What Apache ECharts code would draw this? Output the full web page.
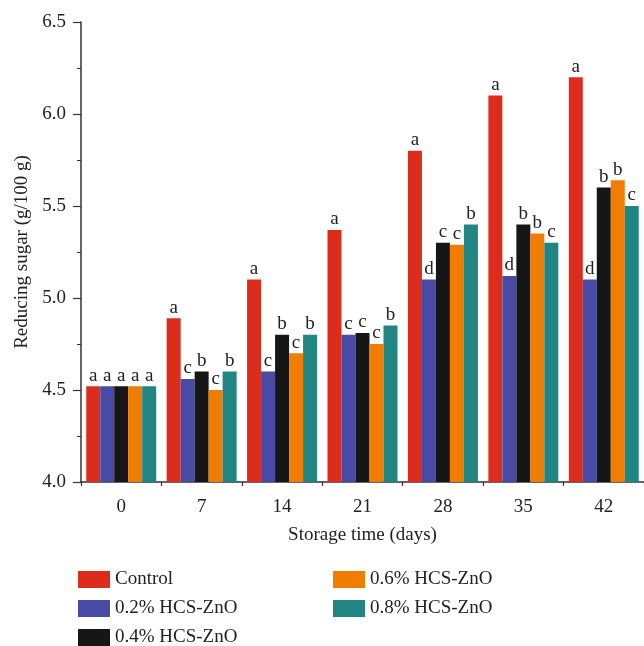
<!DOCTYPE html>
<html><head><meta charset="utf-8">
<script src="https://cdn.jsdelivr.net/npm/echarts@6/dist/echarts.min.js"></script>
<style>html,body{margin:0;padding:0;background:#fff}#c{width:644px;height:646px}</style>
</head><body><div id="c"></div>
<script>
const categories = ['0','7','14','21','28','35','42'];
const seriesNames = ['Control','0.2% HCS-ZnO','0.4% HCS-ZnO','0.6% HCS-ZnO','0.8% HCS-ZnO'];
const control = [4.52, 4.89, 5.10, 5.37, 5.80, 6.10, 6.20];
const hcs02 = [4.52, 4.56, 4.60, 4.80, 5.10, 5.12, 5.10];
const hcs04 = [4.52, 4.60, 4.80, 4.81, 5.30, 5.40, 5.60];
const hcs06 = [4.52, 4.50, 4.70, 4.75, 5.29, 5.35, 5.64];
const hcs08 = [4.52, 4.60, 4.80, 4.85, 5.40, 5.30, 5.50];
const lettersControl = ['a','a','a','a','a','a','a'];
const letters02 = ['a','c','c','c','d','d','d'];
const letters04 = ['a','b','b','c','c','b','b'];
const letters06 = ['a','c','c','c','c','b','b'];
const letters08 = ['a','b','b','b','b','c','c'];
const colors = ['#DC2C1B','#484BA5','#161616','#F07C00','#208583'];

const values = [control, hcs02, hcs04, hcs06, hcs08];
const letters = [lettersControl, letters02, letters04, letters06, letters08];
const font = '"Liberation Serif", "DejaVu Serif", serif';

const series = seriesNames.map((n, i) => ({
  name: n, type: 'bar', xAxisIndex: 0, data: values[i],
  barGap: '0%', barCategoryGap: '13%',
  itemStyle: { color: colors[i] },
  label: { show: true, position: 'top', distance: 1, color: '#222', fontFamily: font, fontSize: 19,
           formatter: p => letters[i][p.dataIndex] }
}));

// legend item slots: [left, top]
const legendSlots = [[78, 570], [78, 599], [78, 628], [333, 570], [333, 599]];
const legends = seriesNames.map((n, i) => ({
  data: [n], left: legendSlots[i][0], top: legendSlots[i][1], padding: 0,
  itemWidth: 32, itemHeight: 17, icon: 'rect',
  textStyle: { fontFamily: font, fontSize: 19, color: '#222' }
}));

const chart = echarts.init(document.getElementById('c'));
chart.setOption({
  animation: false,
  color: colors,
  grid: { left: 81, top: 22, bottom: 164, right: -7 },
  legend: legends,
  xAxis: [
    { type: 'category', data: categories, position: 'bottom',
      name: 'Storage time (days)', nameLocation: 'middle', nameGap: 44,
      nameTextStyle: { fontFamily: font, fontSize: 19, color: '#222' },
      axisLine: { lineStyle: { color: '#333', width: 1.5 } },
      axisTick: { alignWithLabel: true, length: 8, lineStyle: { color: '#333', width: 1.2 } },
      axisLabel: { fontFamily: font, fontSize: 19, color: '#222', margin: 16 } },
    { type: 'category', data: categories, position: 'bottom',
      axisLine: { show: false },
      axisTick: { show: true, length: 4, interval: 0, lineStyle: { color: '#333', width: 1.2 } },
      axisLabel: { show: false } }
  ],
  yAxis: {
    type: 'value', min: 4, max: 6.5, interval: 0.5,
    name: 'Reducing sugar (g/100 g)', nameLocation: 'middle', nameGap: 49,
    nameTextStyle: { fontFamily: font, fontSize: 19, color: '#222' },
    axisLine: { show: true, lineStyle: { color: '#333', width: 1.5 } },
    axisTick: { show: true, length: 8, lineStyle: { color: '#333', width: 1.2 } },
    minorTick: { show: true, splitNumber: 2, length: 4, lineStyle: { color: '#333', width: 1 } },
    splitLine: { show: false },
    axisLabel: { fontFamily: font, fontSize: 19, color: '#222', margin: 15, formatter: v => v.toFixed(1) }
  },
  series: series
});
</script></body></html>
